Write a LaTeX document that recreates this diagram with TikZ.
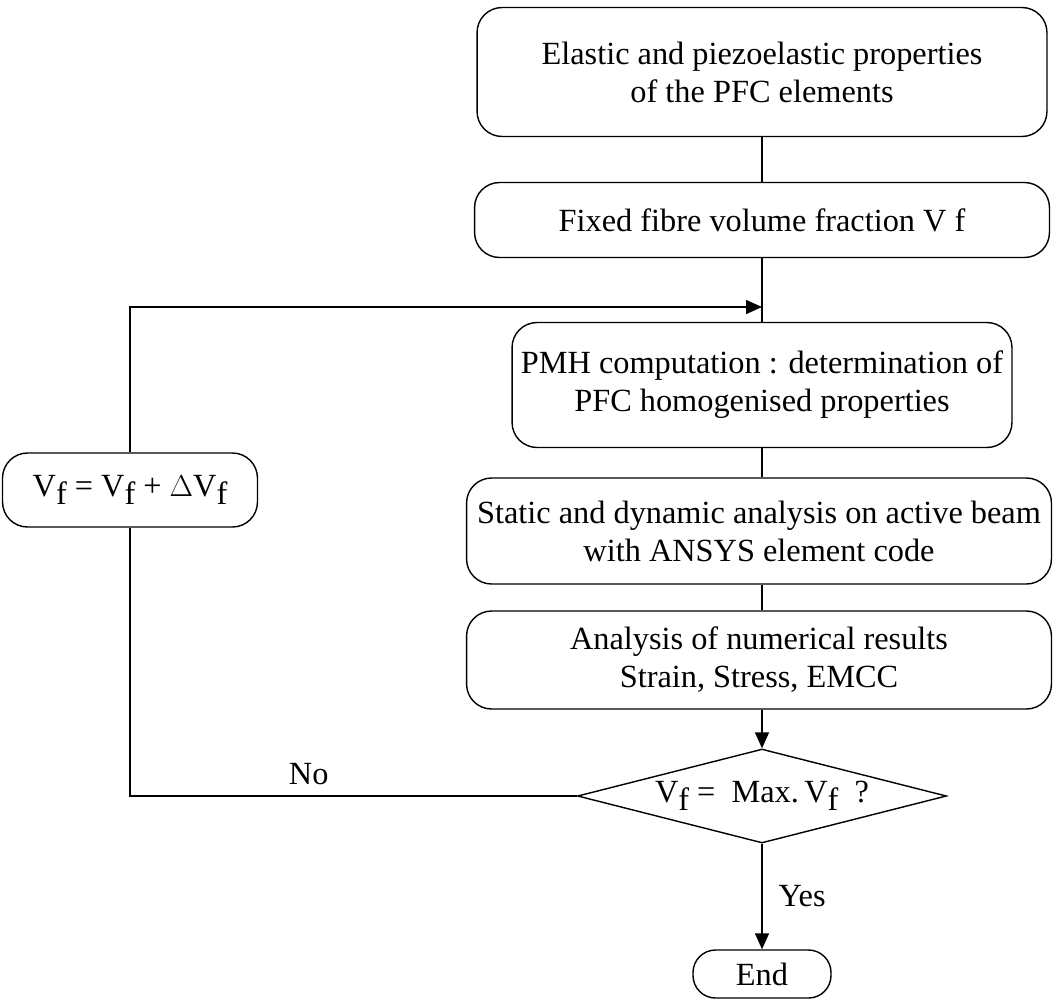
\documentclass[tikz,border=0pt]{standalone}
\usepackage{fontspec}
\setmainfont{Liberation Serif}
\usetikzlibrary{positioning,shapes.geometric,arrows.meta}

\newcommand{\Vf}{V\raisebox{-.55ex}{f}}

\begin{document}
\begin{tikzpicture}
  [x=.02cm,y=-.02cm,line width=.8pt,
   every node/.style={font=\fontsize{18.4}{21.6}\selectfont},
   stepbox/.style={draw,rounded corners=.5cm,align=center,inner sep=0pt},
   flow/.style={-{Triangle[length=.32cm,width=.28cm]}}]
  \useasboundingbox (0,0) rectangle (1053,1001);

  \node[stepbox,minimum width=11.4cm,minimum height=2.58cm] (props) at (762,72)
    {Elastic and piezoelastic properties\\of the PFC elements};
  \node[stepbox,minimum width=11.5cm,minimum height=1.5cm] (frac) at (762,220)
    {Fixed fibre volume fraction V f};
  \node[stepbox,minimum width=10cm,minimum height=2.5cm] (pmh) at (762,385)
    {PMH computation : determination of\\PFC homogenised properties};
  \node[stepbox,minimum width=11.7cm,minimum height=2.12cm] (ansys) at (759,531)
    {Static and dynamic analysis on active beam\\with ANSYS element code};
  \node[stepbox,minimum width=11.7cm,minimum height=1.96cm] (results) at (759,660)
    {Analysis of numerical results\\Strain, Stress, EMCC};
  \node[diamond,draw,aspect=3.9,inner sep=0pt,minimum width=7.38cm,minimum height=1.88cm] (check) at (762,796)
    {\Vf{} =~ Max.\,\Vf{} ~?};
  \node[stepbox,rounded corners=.45cm,minimum width=2.76cm,minimum height=.96cm] (stop) at (762,974) {End};
  \node[stepbox,minimum width=5.1cm,minimum height=1.48cm] (incr) at (130,490)
    {\Vf{} = \Vf{} + $\Delta$\Vf};
  \coordinate (merge) at (762,307);

  \foreach \from/\to in {props/frac,frac/pmh,pmh/ansys,ansys/results}
    \draw (\from.south -| merge) -- (\to.north -| merge);
  \draw[flow] (results.south -| merge) -- (check);
  \draw[flow] (check) -- node[right=.2cm] {Yes} (stop);
  \draw (check.west) -| node[pos=.3,above=.1cm] {No} (incr.south);
  \draw[flow] (incr.north) |- (merge);
\end{tikzpicture}
\end{document}
